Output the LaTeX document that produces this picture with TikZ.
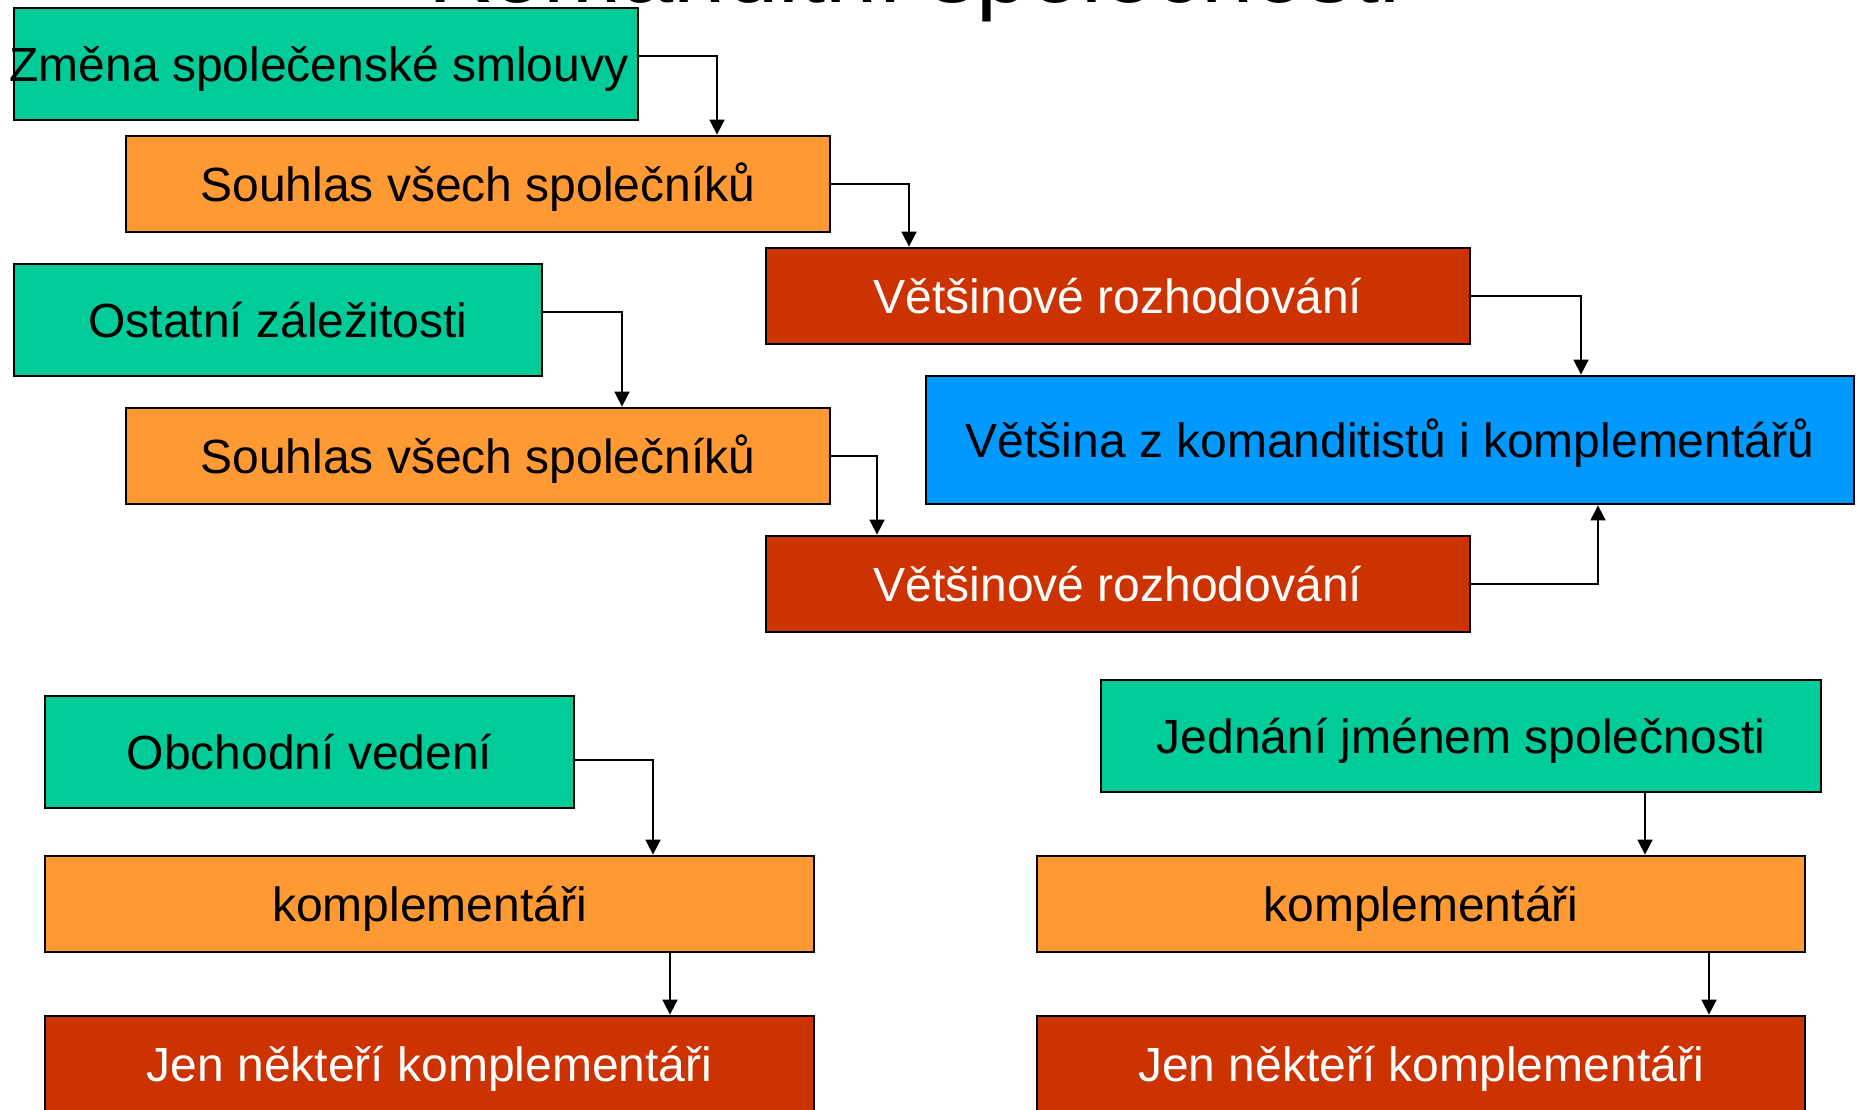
\documentclass[tikz,border=0pt]{standalone}
\usepackage{fontspec}
\setmainfont{Liberation Sans}
\usetikzlibrary{arrows.meta}
\definecolor{cgreen}{RGB}{0,204,153}
\definecolor{corange}{RGB}{255,153,51}
\definecolor{cred}{RGB}{204,51,0}
\definecolor{cblue}{RGB}{0,153,255}
\tikzset{
  box/.style={draw=black, line width=1.4pt, rectangle, inner sep=0pt,
    font=\fontsize{24pt}{28pt}\selectfont, text height=17.2pt, text depth=0pt},
  gbox/.style={box, fill=cgreen, text=black},
  obox/.style={box, fill=corange, text=black},
  rbox/.style={box, fill=cred, text=white},
  bbox/.style={box, fill=cblue, text=black},
  arr/.style={draw=black, line width=0.85pt, -{Triangle[length=7.5pt,width=7.5pt]}}
}
\begin{document}
\begin{tikzpicture}[x=0.5pt,y=-0.5pt]
\useasboundingbox (0,0) rectangle (1858,1109);
\clip (0,0) rectangle (1858,1109);
\fill[white] (0,0) rectangle (1858,1109);

\node[anchor=base west, inner sep=0pt, font=\fontsize{47pt}{52pt}\selectfont] (title) at (428,2) {Komanditní společnosti};

\node[gbox, minimum width=312pt, minimum height=56pt] (b1) at (326,64) {\hspace*{-7pt}Změna společenské smlouvy};
\node[obox, minimum width=352pt, minimum height=48pt] (b2) at (478,184) {Souhlas všech společníků};
\node[rbox, minimum width=352pt, minimum height=48pt] (b3) at (1118,296) {Většinové rozhodování};
\node[gbox, minimum width=264pt, minimum height=56pt] (b4) at (278,320) {Ostatní záležitosti};
\node[bbox, minimum width=464pt, minimum height=64pt] (b5) at (1390,440) {Většina z komanditistů i komplementářů};
\node[obox, minimum width=352pt, minimum height=48pt] (b6) at (478,456) {Souhlas všech společníků};
\node[rbox, minimum width=352pt, minimum height=48pt] (b7) at (1118,584) {Většinové rozhodování};
\node[gbox, minimum width=264.5pt, minimum height=56pt] (b8) at (309.5,752) {Obchodní vedení};
\node[obox, minimum width=384.5pt, minimum height=48pt] (b9) at (429.5,904) {komplementáři};
\node[rbox, minimum width=384.5pt, minimum height=48pt] (b10) at (429.5,1064) {Jen někteří komplementáři};
\node[gbox, minimum width=360pt, minimum height=56pt] (b11) at (1461,736) {Jednání jménem společnosti};
\node[obox, minimum width=384pt, minimum height=48pt] (b12) at (1421,904) {komplementáři};
\node[rbox, minimum width=384pt, minimum height=48pt] (b13) at (1421,1064) {Jen někteří komplementáři};

\draw[arr] ([yshift=4pt]b1.east) -| ([xshift=119.5pt]b2.north);
\draw[arr] (b2.east) -| ([xshift=-104.5pt]b3.north);
\draw[arr] (b3.east) -| ([xshift=95.5pt]b5.north);
\draw[arr] ([yshift=4pt]b4.east) -| ([xshift=72pt]b6.north);
\draw[arr] (b6.east) -| ([xshift=-120.5pt]b7.north);
\draw[arr] (b7.east) -| ([xshift=104pt]b5.south);
\draw[arr] ([yshift=-4pt]b8.east) -| ([xshift=111.75pt]b9.north);
\draw[arr] ([xshift=120.25pt]b9.south) -- ([xshift=120.25pt]b10.north);
\draw[arr] ([xshift=92pt]b11.south) -- ([xshift=112pt]b12.north);
\draw[arr] ([xshift=144pt]b12.south) -- ([xshift=144pt]b13.north);
\end{tikzpicture}
\end{document}
